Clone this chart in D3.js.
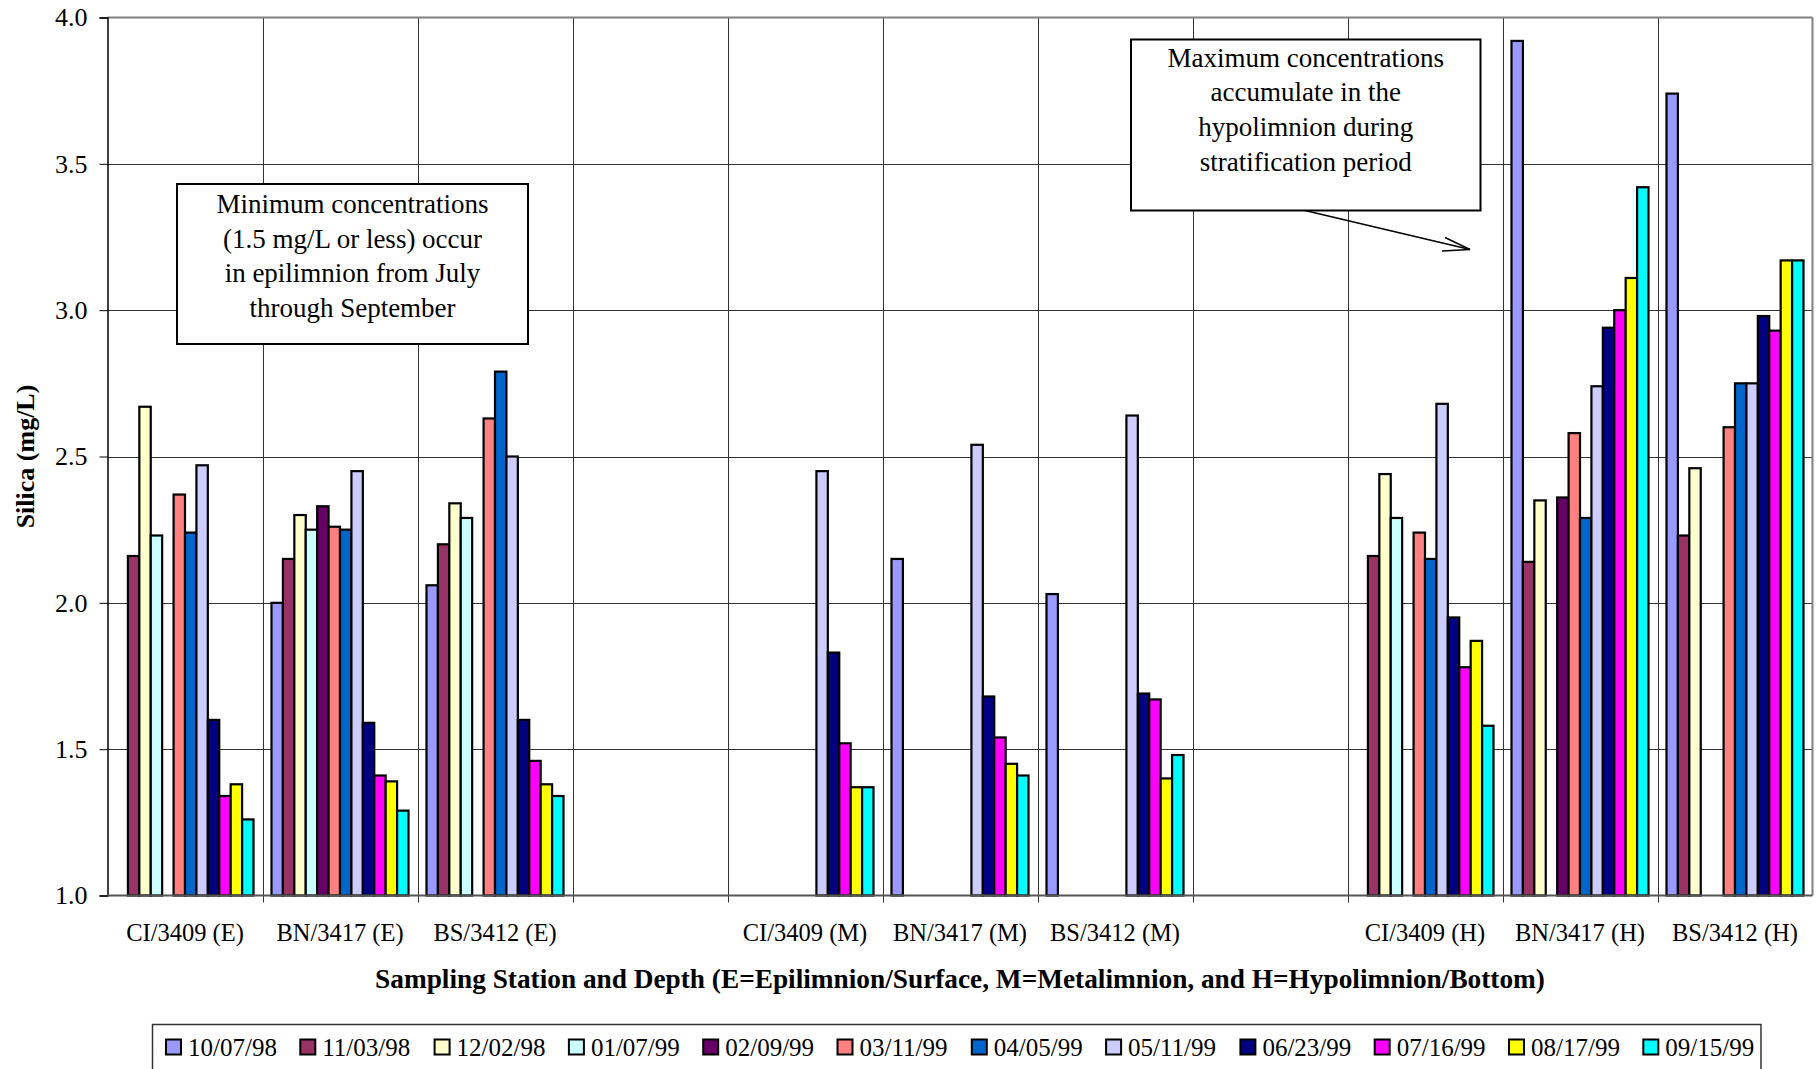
<!DOCTYPE html>
<html>
<head>
<meta charset="utf-8">
<script src="https://d3js.org/d3.v7.min.js"></script>
<style>
  body { margin: 0; background: #fff; }
  svg { display: block; font-family: "Liberation Serif", "Times New Roman", serif; }
</style>
</head>
<body>
<svg id="chart" width="1816" height="1069"></svg>
<script>
// stations (blank entries are the empty gaps between depth groups)
var categories = ["CI/3409 (E)", "BN/3417 (E)", "BS/3412 (E)", "",
                  "CI/3409 (M)", "BN/3417 (M)", "BS/3412 (M)", "",
                  "CI/3409 (H)", "BN/3417 (H)", "BS/3412 (H)"];

var dates = ["10/07/98", "11/03/98", "12/02/98", "01/07/99", "02/09/99", "03/11/99",
             "04/05/99", "05/11/99", "06/23/99", "07/16/99", "08/17/99", "09/15/99"];

var colors = ["#9999FF", "#993366", "#FFFFCC", "#CCFFFF", "#660066", "#FF8080",
              "#0066CC", "#CCCCFF", "#000080", "#FF00FF", "#FFFF00", "#00FFFF"];

// silica mg/L, one array per sampling date, in category order
var s100798 = [null, 2.00, 2.06, null, null, 2.15, 2.03, null, null, 3.92, 3.74];
var s110398 = [2.16, 2.15, 2.20, null, null, null, null, null, 2.16, 2.14, 2.23];
var s120298 = [2.67, 2.30, 2.34, null, null, null, null, null, 2.44, 2.35, 2.46];
var s010799 = [2.23, 2.25, 2.29, null, null, null, null, null, 2.29, null, null];
var s020999 = [null, 2.33, null, null, null, null, null, null, null, 2.36, null];
var s031199 = [2.37, 2.26, 2.63, null, null, null, null, null, 2.24, 2.58, 2.60];
var s040599 = [2.24, 2.25, 2.79, null, null, null, null, null, 2.15, 2.29, 2.75];
var s051199 = [2.47, 2.45, 2.50, null, 2.45, 2.54, 2.64, null, 2.68, 2.74, 2.75];
var s062399 = [1.60, 1.59, 1.60, null, 1.83, 1.68, 1.69, null, 1.95, 2.94, 2.98];
var s071699 = [1.34, 1.41, 1.46, null, 1.52, 1.54, 1.67, null, 1.78, 3.00, 2.93];
var s081799 = [1.38, 1.39, 1.38, null, 1.37, 1.45, 1.40, null, 1.87, 3.11, 3.17];
var s091599 = [1.26, 1.29, 1.34, null, 1.37, 1.41, 1.48, null, 1.58, 3.42, 3.17];

var series = [s100798, s110398, s120298, s010799, s020999, s031199,
              s040599, s051199, s062399, s071699, s081799, s091599];

var yTicks = [1.0, 1.5, 2.0, 2.5, 3.0, 3.5, 4.0];

var note1 = ["Minimum concentrations", "(1.5 mg/L or less) occur",
             "in epilimnion from July", "through September"];
var note2 = ["Maximum concentrations", "accumulate in the",
             "hypolimnion during", "stratification period"];

var plotL = 107.5, plotR = 1812.5, plotT = 17.5, plotB = 895.5;

var svg = d3.select("#chart");

var x0 = d3.scaleBand().domain(d3.range(categories.length)).range([plotL, plotR]);
var cw = x0.bandwidth();
var x1 = d3.scaleBand().domain(d3.range(dates.length)).range([cw * 0.058, cw * 0.942]);
var y = d3.scaleLinear().domain([1, 4]).range([plotB, plotT]);

// gridlines
svg.append("g").selectAll("line").data(yTicks.slice(1, -1)).enter()
  .append("line")
    .attr("x1", plotL).attr("x2", plotR)
    .attr("y1", function(d) { return Math.round(y(d)) + 0.5; })
    .attr("y2", function(d) { return Math.round(y(d)) + 0.5; })
    .attr("stroke", "#333").attr("stroke-width", 1);

svg.append("g").selectAll("line").data(d3.range(1, categories.length)).enter()
  .append("line")
    .attr("x1", function(d) { return Math.round(x0(d)) + 0.5; })
    .attr("x2", function(d) { return Math.round(x0(d)) + 0.5; })
    .attr("y1", plotT).attr("y2", plotB + 7)
    .attr("stroke", "#333").attr("stroke-width", 1);

// top and right frame
svg.append("line").attr("x1", plotL).attr("x2", plotR).attr("y1", plotT).attr("y2", plotT)
  .attr("stroke", "#808080").attr("stroke-width", 2);
svg.append("line").attr("x1", plotR).attr("x2", plotR).attr("y1", plotT).attr("y2", plotB)
  .attr("stroke", "#808080").attr("stroke-width", 2);

// bars
series.forEach(function(vals, si) {
  svg.append("g").selectAll("rect")
    .data(vals.map(function(v, ci) { return {ci: ci, v: v}; }).filter(function(d) { return d.v != null; }))
    .enter().append("rect")
      .attr("x", function(d) { return x0(d.ci) + x1(si); })
      .attr("width", x1.bandwidth())
      .attr("y", function(d) { return y(d.v); })
      .attr("height", function(d) { return y(1) - y(d.v); })
      .attr("fill", colors[si])
      .attr("stroke", "#000")
      .attr("stroke-width", 2.2);
});

// y axis
var yAxis = d3.axisLeft(y).tickValues(yTicks).tickFormat(d3.format(".1f")).tickSize(8).tickPadding(12);
var ya = svg.append("g").attr("transform", "translate(" + plotL + ",0)").call(yAxis);
ya.select(".domain").attr("stroke", "#000").attr("stroke-width", 1.5);
ya.selectAll(".tick line").attr("stroke", "#000");
ya.selectAll("text").attr("font-size", 26).attr("font-family", "Liberation Serif, serif").attr("fill", "#000");

// x axis line
svg.append("line").attr("x1", plotL).attr("x2", plotR).attr("y1", plotB).attr("y2", plotB)
  .attr("stroke", "#555").attr("stroke-width", 2);

// category labels
svg.append("g").selectAll("text").data(categories).enter()
  .append("text")
    .attr("x", function(d, i) { return x0(i) + cw / 2; })
    .attr("y", 941)
    .attr("text-anchor", "middle")
    .attr("font-size", 24.5)
    .text(function(d) { return d; });

// axis titles
svg.append("text")
  .attr("x", (plotL + plotR) / 2).attr("y", 988)
  .attr("text-anchor", "middle").attr("font-size", 27.3).attr("font-weight", "bold")
  .text("Sampling Station and Depth (E=Epilimnion/Surface, M=Metalimnion, and H=Hypolimnion/Bottom)");

svg.append("text")
  .attr("transform", "translate(34," + ((plotT + plotB) / 2) + ") rotate(-90)")
  .attr("text-anchor", "middle").attr("font-size", 26).attr("font-weight", "bold")
  .text("Silica (mg/L)");

// annotation boxes
function note(lines, bx, by, bw, bh, firstBase) {
  svg.append("rect").attr("x", bx).attr("y", by).attr("width", bw).attr("height", bh)
    .attr("fill", "#fff").attr("stroke", "#000").attr("stroke-width", 2);
  svg.append("g").selectAll("text").data(lines).enter()
    .append("text")
      .attr("x", bx + bw / 2)
      .attr("y", function(d, i) { return firstBase + i * 34.7; })
      .attr("text-anchor", "middle").attr("font-size", 27)
      .text(function(d) { return d; });
}
note(note1, 177, 184, 351, 160, 213);
note(note2, 1131, 39.5, 349.5, 171, 66.5);

// arrow from the second note
svg.append("line").attr("x1", 1305).attr("y1", 210.5).attr("x2", 1470).attr("y2", 249.5)
  .attr("stroke", "#000").attr("stroke-width", 1.5);
svg.append("path").attr("d", "M1445,237.5 L1470,249.5 L1442,251")
  .attr("fill", "none").attr("stroke", "#000").attr("stroke-width", 1.5);

// legend
svg.append("rect").attr("x", 152.5).attr("y", 1024.5).attr("width", 1608.5).attr("height", 60)
  .attr("fill", "#fff").attr("stroke", "#333").attr("stroke-width", 1.5);
var lg = svg.append("g").selectAll("g").data(dates).enter()
  .append("g").attr("transform", function(d, i) { return "translate(" + (166 + i * 134.3) + ",0)"; });
lg.append("rect").attr("x", 0).attr("y", 1039.5).attr("width", 15).attr("height", 15)
  .attr("fill", function(d, i) { return colors[i]; })
  .attr("stroke", "#000").attr("stroke-width", 2);
lg.append("text").attr("x", 22).attr("y", 1056).attr("font-size", 25)
  .text(function(d) { return d; });
</script>
</body>
</html>
